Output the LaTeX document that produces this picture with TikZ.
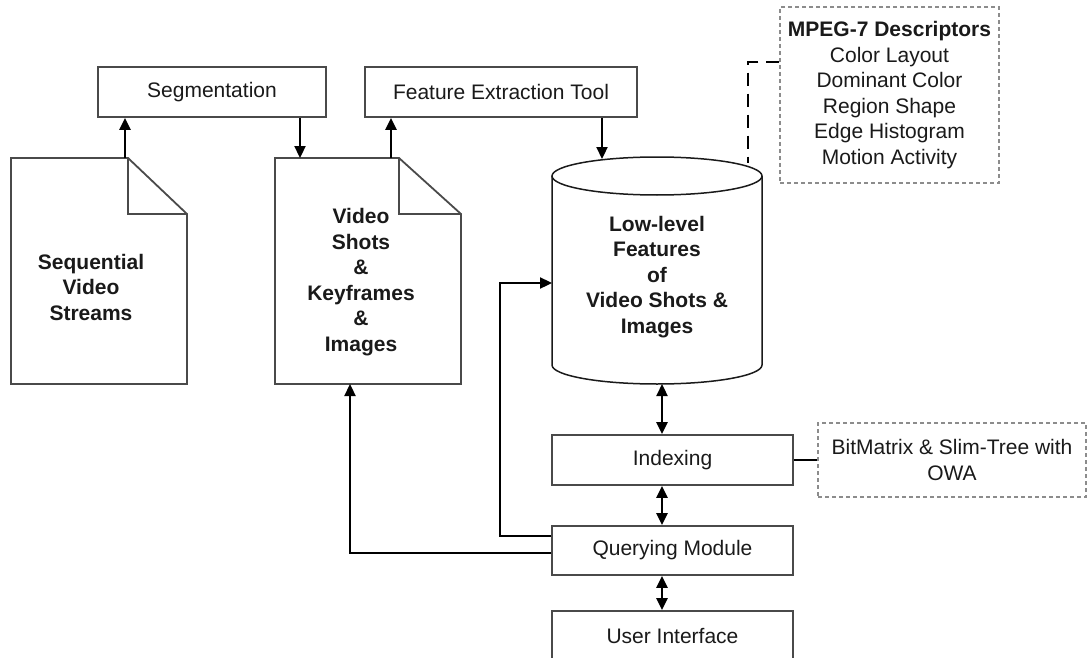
\documentclass[tikz,border=0pt]{standalone}
\usepackage{fontspec}
\setmainfont{Liberation Sans}
\usetikzlibrary{arrows.meta}
\definecolor{ink}{HTML}{1A1A1A}
\definecolor{edge}{HTML}{4A4A4A}
\definecolor{dashgray}{HTML}{8C8C8C}
\tikzset{
  procbox/.style={draw=edge, line width=1.8pt, fill=white, text=ink, inner sep=0pt, align=center},
  notebox/.style={draw=dashgray, line width=1.3pt, dash pattern=on 4pt off 3pt, fill=white, text=ink, inner sep=0pt, align=center},
  txt/.style={text=ink, align=center, inner sep=0pt},
  area/.style={inner sep=0pt, outer sep=0pt},
  shapeline/.style={draw=edge, line width=1.8pt, line join=miter, fill=white},
  cylline/.style={draw=ink, line width=1.5pt, fill=white},
  flow/.style={draw=black, line width=2.3pt, -{Triangle[length=12pt,width=11pt]}},
  twoway/.style={draw=black, line width=2.3pt, {Triangle[length=12pt,width=11pt]}-{Triangle[length=12pt,width=11pt]}},
  link/.style={draw=black, line width=2.2pt},
  dashlink/.style={draw=black, line width=2.2pt, dash pattern=on 13pt off 8pt},
}
\begin{document}
\begin{tikzpicture}[x=1pt, y=-1pt, font=\fontsize{21}{25.5}\selectfont]
\useasboundingbox (0,0) rectangle (1089,658);
\clip (0,0) rectangle (1089,658);

% processing boxes
\node[procbox, minimum width=228, minimum height=50] (seg) at (212,92) {Segmentation};
\node[procbox, minimum width=272, minimum height=50] (fet) at (501,92) {Feature Extraction Tool};
\node[procbox, minimum width=241, minimum height=50] (idx) at (672.5,460) {Indexing};
\node[procbox, minimum width=241, minimum height=49] (qry) at (672.5,550.5) {Querying Module};
\node[procbox, minimum width=241, minimum height=50] (ui) at (672.5,636) {User Interface};

% annotation boxes
\node[notebox, minimum width=219, minimum height=176] (mpeg) at (889.5,95)
  {\textbf{MPEG-7 Descriptors}\\Color Layout\\Dominant Color\\Region Shape\\Edge Histogram\\Motion Activity};
\node[notebox, minimum width=268, minimum height=74] (bmx) at (952,460)
  {BitMatrix \& Slim-Tree with\\OWA};

% document: sequential video streams
\draw[shapeline] (11,158) -- (128,158) -- (187,214) -- (187,384) -- (11,384) -- cycle;
\draw[shapeline, fill=none] (128,158) -- (128,214) -- (187,214);
\node[txt] (streams) at (91,287) {\textbf{Sequential}\\\textbf{Video}\\\textbf{Streams}};

% document: shots, keyframes and images
\draw[shapeline] (275,158) -- (399,158) -- (461,214) -- (461,384) -- (275,384) -- cycle;
\draw[shapeline, fill=none] (399,158) -- (399,214) -- (461,214);
\node[txt] (shots) at (361,282) {\textbf{Video}\\\textbf{Shots}\\\textbf{\&}\\\textbf{Keyframes}\\\textbf{\&}\\\textbf{Images}};

% feature database (cylinder)
\draw[cylline] (552,176) -- (552,365) arc[start angle=180, end angle=360, x radius=105pt, y radius=19pt] -- (762,176);
\draw[cylline] (657,176) ellipse [x radius=105pt, y radius=19pt];
\node[area, minimum width=210, minimum height=227] (db) at (657,270.5) {};
\node[txt] (dbtext) at (657,277) {\textbf{Low-level}\\\textbf{Features}\\\textbf{of}\\\textbf{Video Shots \&}\\\textbf{Images}};

% connector end points on the document and cylinder outlines
\coordinate (strout) at (125,158);
\coordinate (shotin) at (300,158);
\coordinate (shotout) at (391,158);
\coordinate (shotbot) at (350,384);
\coordinate (dbtop) at (602,159);
\coordinate (dbtopright) at (748,163);

% connectors
\draw[flow] (strout) -- (strout |- seg.south);
\draw[flow] (seg.south -| shotin) -- (shotin);
\draw[flow] (shotout) -- (shotout |- fet.south);
\draw[flow] (fet.south -| dbtop) -- (dbtop);
\draw[dashlink] ([yshift=33pt]mpeg.west) -| (dbtopright);

\draw[twoway] ([xshift=5pt]db.south) -- ([xshift=5pt]db.south |- idx.north);
\draw[twoway] ([xshift=-10.5pt]idx.south) -- ([xshift=-10.5pt]qry.north);
\draw[twoway] ([xshift=-10.5pt]qry.south) -- ([xshift=-10.5pt]ui.north);
\draw[link] (idx.east) -- (bmx.west);

\draw[flow] ([yshift=14.5pt]qry.west) -- ++(-51,0) |- ([yshift=-12.5pt]db.west);
\draw[flow] ([yshift=-2.5pt]qry.west) -| (shotbot);
\end{tikzpicture}
\end{document}
